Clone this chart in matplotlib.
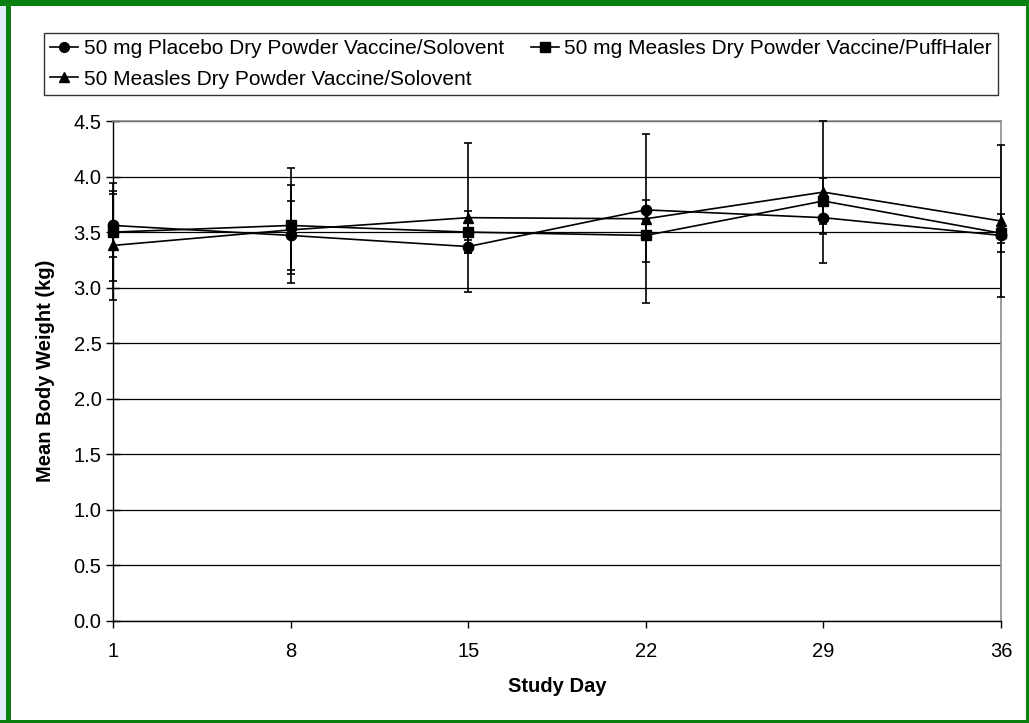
import matplotlib
matplotlib.use("Agg")
import matplotlib.pyplot as plt
from matplotlib.lines import Line2D
from matplotlib.patches import Rectangle

plt.rcParams['font.family'] = ['Liberation Sans', 'DejaVu Sans']

days = [1, 8, 15, 22, 29, 36]
series_names = [
    "50 mg Placebo Dry Powder Vaccine/Solovent",
    "50 mg Measles Dry Powder Vaccine/PuffHaler",
    "50 Measles Dry Powder Vaccine/Solovent",
]
placebo_mean = [3.56, 3.47, 3.37, 3.70, 3.63, 3.47]
placebo_sd = [0.28, 0.31, 0.06, 0.09, 0.15, 0.07]
puff_mean = [3.50, 3.56, 3.50, 3.47, 3.78, 3.49]
puff_sd = [0.44, 0.52, 0.19, 0.24, 0.21, 0.17]
solo_mean = [3.38, 3.52, 3.63, 3.62, 3.86, 3.60]
solo_sd = [0.49, 0.40, 0.67, 0.76, 0.64, 0.68]
markers = ['o', 's', '^']
yticks = [0.0, 0.5, 1.0, 1.5, 2.0, 2.5, 3.0, 3.5, 4.0, 4.5]

W, H = 1029, 723
fig = plt.figure(figsize=(W / 100, H / 100), dpi=100)
fig.patch.set_facecolor('white')

# frame decoration
fig.patches.append(Rectangle((0, 0), 6 / W, 1, transform=fig.transFigure,
                             facecolor='#e3eefb', edgecolor='none', zorder=0))
green = '#0a8010'
fig.patches.append(Rectangle((6 / W, 0), 5 / W, 1, transform=fig.transFigure,
                             facecolor=green, edgecolor='none', zorder=1))
fig.patches.append(Rectangle((0, 1 - 6 / H), 1, 6 / H, transform=fig.transFigure,
                             facecolor=green, edgecolor='none', zorder=1))
fig.patches.append(Rectangle((1 - 3 / W, 0), 3 / W, 1, transform=fig.transFigure,
                             facecolor=green, edgecolor='none', zorder=1))
fig.patches.append(Rectangle((0, 0), 1, 3 / H, transform=fig.transFigure,
                             facecolor=green, edgecolor='none', zorder=1))

ax = fig.add_axes([113 / W, 1 - 621 / H, (1001 - 113) / W, 500 / H])

means = [placebo_mean, puff_mean, solo_mean]
sds = [placebo_sd, puff_sd, solo_sd]
handles = []
for m, s, mk, name in zip(means, sds, markers, series_names):
    ms = 7.5 if mk == 'o' else (7 if mk == 's' else 7.5)
    eb = ax.errorbar(days, m, yerr=s, color='black', ecolor='black',
                     marker=mk, markersize=ms, linewidth=1.2, elinewidth=1.2,
                     capsize=3, capthick=1.2, clip_on=False, zorder=3)
    for art in eb.lines[1] + eb.lines[2]:
        art.set_clip_on(False)
    handles.append(Line2D([], [], color='black', marker=mk, markersize=7,
                          linewidth=1.2, label=name))

ax.set_xlim(1, 36)
ax.set_ylim(0, 4.5)
ax.set_xticks(days)
ax.set_xticklabels([str(d) for d in days])
ax.set_yticks(yticks)
ax.set_yticklabels([f"{v:.1f}" for v in yticks])
ax.yaxis.grid(True, color='black', linewidth=0.9)
ax.set_axisbelow(True)

for side in ['top', 'right']:
    ax.spines[side].set_color('#8c8c8c')
    ax.spines[side].set_linewidth(1.2)
ax.spines['left'].set_color('black')
ax.spines['bottom'].set_color('black')
ax.spines['left'].set_linewidth(1.0)
ax.spines['bottom'].set_linewidth(1.0)

ax.tick_params(axis='y', direction='inout', length=9.5, width=1, labelsize=14.5, pad=3.5)
ax.tick_params(axis='x', direction='out', length=5, width=1, labelsize=14.5, pad=10)

ax.set_xlabel("Study Day", fontsize=14.5, fontweight='bold')
ax.set_ylabel("Mean Body Weight (kg)", fontsize=14.5, fontweight='bold')
ax.xaxis.set_label_coords(0.5, -(677 - 621) / 500)
ax.yaxis.set_label_coords((55 - 113) / 888, 0.5)

order = [handles[0], handles[2], handles[1]]
leg = fig.legend(handles=order, labels=[h.get_label() for h in order],
                 loc='upper left', bbox_to_anchor=(44 / W, 1 - 33 / H),
                 ncol=2, frameon=True, fancybox=False, fontsize=15,
                 handlelength=1.35, handletextpad=0.25, columnspacing=1.3,
                 borderpad=0.3, labelspacing=0.55, borderaxespad=0)
leg.get_frame().set_edgecolor('black')
leg.get_frame().set_linewidth(1.0)

fig.savefig("out.png", dpi=100, facecolor='white')
